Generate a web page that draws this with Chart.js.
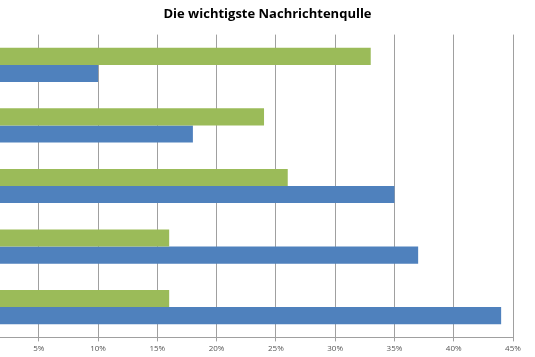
<!DOCTYPE html>
<html>
<head>
<meta charset="utf-8">
<script src="https://cdn.jsdelivr.net/npm/chart.js@4/dist/chart.umd.min.js"></script>
<style>
  html, body { margin: 0; padding: 0; background: #fff; overflow: hidden; }
  #wrap { position: absolute; left: 0; top: 0; width: 535px; height: 357px; }
</style>
</head>
<body>
<div id="wrap"><canvas id="c" width="535" height="357"></canvas></div>
<script>
const categories = ["Gruppe 1", "Gruppe 2", "Gruppe 3", "Gruppe 4", "Gruppe 5"];
const greenValues = [33, 24, 26, 16, 16];
const blueValues = [10, 18, 35, 37, 44];
const tickValues = [5, 10, 15, 20, 25, 30, 35, 40, 45];
const titleText = "Die wichtigste Nachrichtenqulle";

new Chart(document.getElementById("c"), {
  type: "bar",
  data: {
    labels: categories,
    datasets: [
      { label: "Serie 1", data: greenValues, backgroundColor: "#9BBB59", borderWidth: 0 },
      { label: "Serie 2", data: blueValues, backgroundColor: "#4F81BD", borderWidth: 0 }
    ]
  },
  options: {
    indexAxis: "y",
    responsive: false,
    animation: false,
    devicePixelRatio: 1,
    layout: { padding: { left: 0, right: 0, top: 0, bottom: 0 } },
    categoryPercentage: 0.564,
    barPercentage: 1.0,
    plugins: {
      legend: { display: false },
      tooltip: { enabled: false },
      title: {
        display: true,
        text: titleText,
        color: "#000",
        font: { family: "Open Sans", size: 13, weight: "bold" },
        padding: { top: 6, bottom: 13 }
      }
    },
    scales: {
      x: {
        type: "linear",
        min: 1.73,
        max: 45,
        afterBuildTicks: (s) => { s.ticks = tickValues.map(v => ({ value: v })); },
        afterFit: (s) => { s.paddingLeft = 0; s.paddingRight = 22; },
        grid: { color: "#a0a0a0", lineWidth: 1, drawTicks: true, tickLength: 4 },
        border: { display: true, color: "#a0a0a0", width: 1 },
        ticks: {
          color: "#555",
          font: { family: "Open Sans", size: 8 },
          padding: 3,
          maxRotation: 0,
          autoSkip: false,
          callback: (v) => v + "%"
        }
      },
      y: {
        type: "category",
        display: false,
        grid: { display: false }
      }
    }
  }
});
</script>
</body>
</html>
